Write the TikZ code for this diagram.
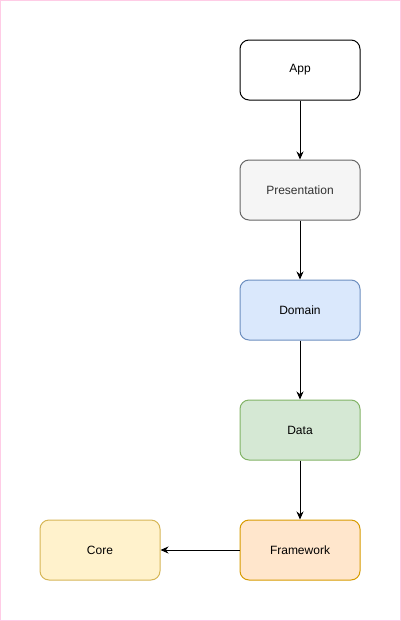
\documentclass[tikz,border=0pt]{standalone}
\usepackage{fontspec}
\setmainfont{Liberation Sans}
\usetikzlibrary{arrows.meta}
\definecolor{framepink}{HTML}{FFCCE6}
\definecolor{presfill}{HTML}{F5F5F5}
\definecolor{presline}{HTML}{666666}
\definecolor{prestext}{HTML}{333333}
\definecolor{domfill}{HTML}{DAE8FC}
\definecolor{domline}{HTML}{6C8EBF}
\definecolor{datfill}{HTML}{D5E8D4}
\definecolor{datline}{HTML}{82B366}
\definecolor{frmfill}{HTML}{FFE6CC}
\definecolor{frmline}{HTML}{D79B00}
\definecolor{corfill}{HTML}{FFF2CC}
\definecolor{corline}{HTML}{D6B656}

\begin{document}
\begin{tikzpicture}[
  x=1pt, y=-1pt,
  layer/.style={rectangle, rounded corners=9pt, draw, line width=1pt, minimum width=120pt, minimum height=60pt, align=center, inner sep=2pt, font=\fontsize{12}{14}\selectfont},
  app/.style={layer, fill=white, draw=black},
  pres/.style={layer, fill=presfill, draw=presline, text=prestext},
  dom/.style={layer, fill=domfill, draw=domline},
  dat/.style={layer, fill=datfill, draw=datline},
  frm/.style={layer, fill=frmfill, draw=frmline},
  cor/.style={layer, fill=corfill, draw=corline},
  ar/.style={-{Stealth[length=8pt, width=7pt]}, line width=1pt}
]

\draw[framepink, line width=1pt] (0.5,0.5) rectangle (400.5,620.5);
\useasboundingbox (0,0) rectangle (401,621);

\node[app]  (app)  at (300,70)  {App};
\node[pres] (pres) at (300,190) {Presentation};
\node[dom]  (dom)  at (300,310) {Domain};
\node[dat]  (dat)  at (300,430) {Data};
\node[frm]  (frm)  at (300,550) {Framework};
\node[cor]  (core) at (100,550) {Core};

\draw[ar] (app) -- (pres);
\draw[ar] (pres) -- (dom);
\draw[ar] (dom) -- (dat);
\draw[ar] (dat) -- (frm);
\draw[ar] (frm) -- (core);

\end{tikzpicture}
\end{document}
